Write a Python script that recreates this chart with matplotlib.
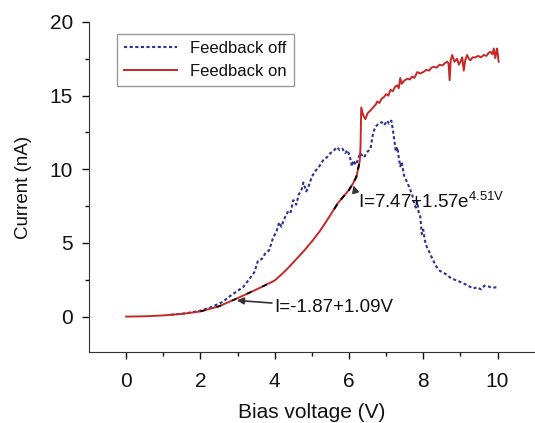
import matplotlib
matplotlib.use("Agg")
import matplotlib.pyplot as plt
import numpy as np

plt.rcParams['font.family'] = ['Liberation Sans', 'DejaVu Sans']
plt.rcParams['mathtext.fontset'] = 'custom'
plt.rcParams['mathtext.rm'] = 'Liberation Sans'

# Feedback on (red)
v_on = [0, 0.5, 1.0, 1.5, 2.0, 2.5, 3.0, 3.3, 3.6, 4.0, 4.2, 4.4, 4.6, 4.8, 5.0, 5.2, 5.4,
        5.6, 5.7, 5.8, 5.9, 6.0, 6.1, 6.2, 6.26, 6.29, 6.31, 6.33, 6.38, 6.44, 6.5, 6.58,
        6.65, 6.72, 6.76, 6.82, 6.88, 6.94, 7.0, 7.06, 7.12, 7.18, 7.24, 7.3, 7.34, 7.38,
        7.42, 7.48, 7.57, 7.64, 7.7, 7.76, 7.84, 7.92, 8.0, 8.08, 8.16, 8.22, 8.28, 8.36,
        8.44, 8.52, 8.58, 8.64, 8.68, 8.71, 8.74, 8.78, 8.84, 8.91, 8.96, 9.0, 9.05, 9.09,
        9.13, 9.18, 9.23, 9.27, 9.33, 9.41, 9.48, 9.55, 9.63, 9.7, 9.76, 9.81, 9.86, 9.9,
        9.94, 9.97, 9.99, 10.03]
i_on = [0, 0.02, 0.08, 0.18, 0.35, 0.7, 1.25, 1.6, 1.95, 2.45, 2.9, 3.4, 3.95, 4.5, 5.1, 5.75, 6.5,
        7.3, 7.7, 8.0, 8.3, 8.6, 9.0, 9.5, 10.2, 10.6, 11.5, 14.2, 13.7, 13.4, 13.8, 14.0,
        14.2, 14.4, 14.6, 14.5, 14.8, 14.9, 15.1, 15.0, 15.4, 15.3, 15.6, 15.7, 15.5, 16.2,
        15.8, 16.0, 16.15, 16.1, 16.3, 16.2, 16.6, 16.5, 16.6, 16.75, 16.7, 16.9, 16.96, 16.9,
        17.1, 17.05, 17.2, 17.3, 17.2, 16.05, 17.4, 17.76, 17.3, 17.5, 17.1, 17.3, 17.6, 16.7,
        17.4, 17.76, 17.5, 17.4, 17.6, 17.6, 17.7, 17.6, 17.76, 17.7, 17.9, 17.98, 17.8, 18.2,
        17.55, 18.0, 18.2, 17.3]

# Feedback off (blue)
v_off = [1.2, 1.6, 2.0, 2.3, 2.6, 2.8, 3.0, 3.15, 3.3, 3.45, 3.55, 3.65, 3.75, 3.85, 3.95, 4.05,
         4.12, 4.18, 4.25, 4.35, 4.42, 4.5, 4.58, 4.65, 4.72, 4.77, 4.85, 4.92, 5.0, 5.1, 5.2,
         5.3, 5.4, 5.5, 5.6, 5.68, 5.75, 5.82, 5.9, 5.96, 6.02, 6.08, 6.12, 6.18, 6.25, 6.3,
         6.4, 6.5, 6.58, 6.65, 6.72, 6.8, 6.88, 6.95, 7.02, 7.08, 7.14, 7.18, 7.22, 7.26, 7.3,
         7.34, 7.38, 7.42, 7.48, 7.55, 7.62, 7.7, 7.76, 7.8, 7.84, 7.88, 7.92, 7.96, 8.0, 8.04,
         8.1, 8.16, 8.25, 8.35, 8.45, 8.6, 8.75, 8.9, 9.05, 9.2, 9.35, 9.45, 9.55, 9.65, 9.75,
         9.85, 10.0]
i_off = [0.12, 0.22, 0.4, 0.65, 1.0, 1.4, 1.75, 2.0, 2.5, 3.0, 3.8, 3.9, 4.3, 4.5, 5.3, 5.8,
         6.4, 6.1, 6.6, 7.1, 7.0, 7.9, 7.6, 8.3, 8.6, 9.1, 8.5, 8.9, 9.5, 9.9, 10.2,
         10.6, 10.8, 11.1, 11.3, 11.5, 11.3, 11.4, 11.1, 11.3, 10.9, 10.2, 10.6, 10.3, 10.7, 11.1,
         10.8, 11.2, 11.4, 12.5, 12.9, 13.1, 13.2, 13.0, 13.3, 13.1, 13.3, 12.7, 12.0, 11.2, 11.5,
         10.8, 10.2, 10.5, 9.6, 9.2, 8.8, 8.3, 7.6, 7.4, 7.8, 7.0, 6.8, 5.6, 5.9, 5.2,
         4.7, 4.4, 3.9, 3.4, 3.1, 2.9, 2.6, 2.45, 2.3, 2.1, 1.9, 2.0, 1.85, 2.1, 2.05,
         1.95, 2.0]

# Fit ranges
lin_fit = (2.0, 4.0)
exp_fit = (5.5, 6.29)

fig = plt.figure(figsize=(5.35, 4.23), dpi=100)
ax = fig.add_axes([0.1664, 0.168, 0.833, 0.780])

red = '#c62828'
blue = '#2e3192'
ax.plot(v_on, i_on, color=red, lw=1.4, label='Feedback on', zorder=3)
ax.plot(v_off, i_off, color=blue, lw=1.5, linestyle=(0, (1.5, 1.2)), label='Feedback off', zorder=2)

v_on_a = np.array(v_on); i_on_a = np.array(i_on)
m = (v_on_a >= lin_fit[0]) & (v_on_a <= lin_fit[1])
ax.plot(v_on_a[m], i_on_a[m], color='black', lw=1.2, linestyle=(0, (3, 7)), zorder=4)
m2 = (v_on_a >= exp_fit[0]) & (v_on_a <= exp_fit[1])
ax.plot(v_on_a[m2], i_on_a[m2], color='black', lw=1.4, linestyle=(0, (3, 3)), zorder=4)

ax.annotate('I=-1.87+1.09V', xy=(2.98, 1.1), xytext=(4.0, 0.6),
            fontsize=13.5, va='center', ha='left', color='#111111',
            arrowprops=dict(arrowstyle='-|>', color='#333333', lw=1.2, mutation_scale=10,
                            shrinkA=0, shrinkB=0))
ax.annotate(r'I=7.47+1.57e$^{\mathregular{4.51V}}$', xy=(6.12, 8.9), xytext=(6.25, 7.8),
            fontsize=13.5, va='center', ha='left', color='#111111',
            arrowprops=dict(arrowstyle='-|>', color='#333333', lw=1.2, mutation_scale=10,
                            shrinkA=22, shrinkB=0, relpos=(0.0, 0.5)))

ax.set_xlim(-1, 11)
ax.set_ylim(-2.4, 20)
ax.set_xticks([0, 2, 4, 6, 8, 10])
ax.set_xticks([1, 3, 5, 7, 9], minor=True)
ax.set_yticks([0, 5, 10, 15, 20])
ax.set_yticks([2.5, 7.5, 12.5, 17.5], minor=True)
ax.tick_params(axis='both', which='major', direction='out', length=5, width=1, labelsize=15, colors='#111111')
ax.tick_params(axis='x', which='major', pad=9.5)
ax.tick_params(axis='y', which='major', pad=6.5)
ax.tick_params(axis='both', which='minor', direction='out', length=3, width=1, colors='#111111')
for s in ['top', 'right']:
    ax.spines[s].set_visible(False)
for s in ['left', 'bottom']:
    ax.spines[s].set_color('#333333')
ax.set_xlabel('Bias voltage (V)', fontsize=15, color='#111111', labelpad=8.5)
ax.set_ylabel('Current (nA)', fontsize=13.5, color='#111111', labelpad=13)

h, l = ax.get_legend_handles_labels()
leg = ax.legend([h[1], h[0]], [l[1], l[0]], loc='upper left', bbox_to_anchor=(0.063, 0.963),
                borderaxespad=0, fontsize=12, fancybox=False, edgecolor='#999999',
                handlelength=3.2, framealpha=1)
leg.get_frame().set_linewidth(1.0)
for t in leg.get_texts():
    t.set_color('#111111')

fig.savefig('out.png', dpi=100)
